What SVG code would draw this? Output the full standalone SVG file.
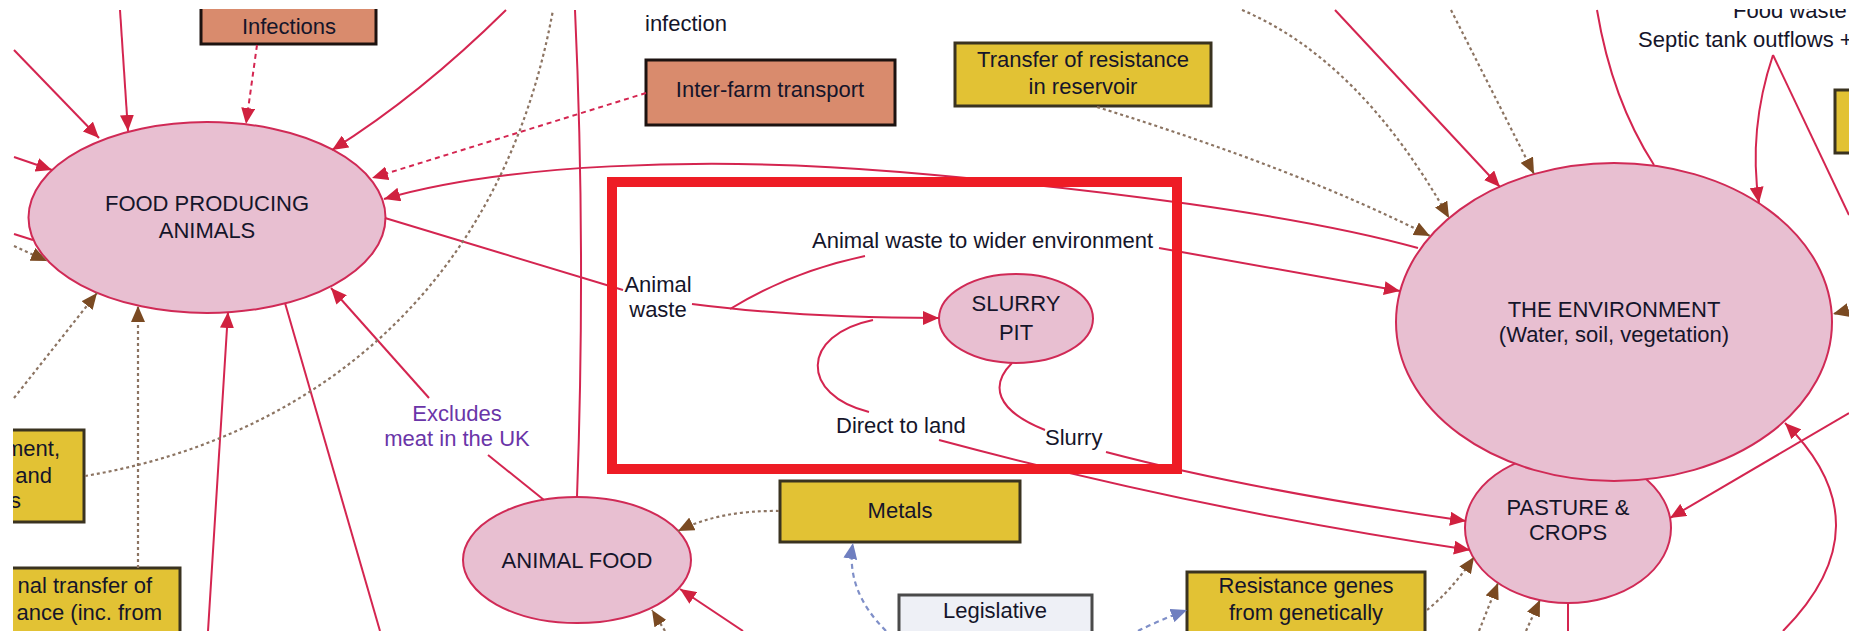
<svg xmlns="http://www.w3.org/2000/svg" width="1849" height="631" viewBox="0 0 1849 631">
<style>
text{font-family:"Liberation Sans",Arial,sans-serif;font-size:22px;fill:#15152a}
.c{text-anchor:middle}
.e{text-anchor:end}
.ell{fill:#E8BFD1;stroke:#D02A56;stroke-width:2}
.yel{fill:#E2C234;stroke:#3A3320;stroke-width:3}
.sal{fill:#D98B6D;stroke:#1C1210;stroke-width:3}
.leg{fill:#EEF0F6;stroke:#4A4A4A;stroke-width:3}
.r{fill:none;stroke:#D42550;stroke-width:2}
.rd{fill:none;stroke:#D42550;stroke-width:2;stroke-dasharray:5 4}
.b{fill:none;stroke:#8C7462;stroke-width:2.2;stroke-dasharray:3 3}
.bl{fill:none;stroke:#7F8FC8;stroke-width:2.2;stroke-dasharray:5 4}
.pur{fill:#6A35A8}
</style>
<defs>
<marker id="ar" markerUnits="userSpaceOnUse" markerWidth="18" markerHeight="14" refX="16" refY="7" orient="auto"><path d="M0,0 L16,7 L0,14 z" fill="#D0213F"/></marker>
<marker id="ab" markerUnits="userSpaceOnUse" markerWidth="18" markerHeight="14" refX="16" refY="7" orient="auto"><path d="M0,0 L16,7 L0,14 z" fill="#7A4A22"/></marker>
<marker id="abl" markerUnits="userSpaceOnUse" markerWidth="18" markerHeight="14" refX="16" refY="7" orient="auto"><path d="M0,0 L16,7 L0,14 z" fill="#6F7FC0"/></marker>
<clipPath id="clip"><rect x="13" y="9" width="1836" height="622"/></clipPath>
</defs>
<rect width="1849" height="631" fill="#fff"/>
<g clip-path="url(#clip)">
<g id="nodes">
<g id="infections"><rect class="sal" x="201" y="-5" width="175" height="49"/><text class="c" x="289" y="34">Infections</text></g>
<g id="food-producing-animals"><ellipse class="ell" cx="207" cy="217.5" rx="178.5" ry="95.5"/><text class="c" x="207" y="211">FOOD PRODUCING</text><text class="c" x="207" y="238">ANIMALS</text></g>
<g id="inter-farm"><rect class="sal" x="646" y="60" width="249" height="65"/><text class="c" x="770" y="97">Inter-farm transport</text></g>
<g id="transfer-reservoir"><rect class="yel" x="955" y="43" width="256" height="63"/><text class="c" x="1083" y="67">Transfer of resistance</text><text class="c" x="1083" y="94">in reservoir</text></g>
<g id="right-box"><rect class="yel" x="1835" y="90" width="30" height="63"/></g>
<g id="pasture-crops"><ellipse class="ell" cx="1568" cy="528" rx="103" ry="75"/><text class="c" x="1568" y="515">PASTURE &amp;</text><text class="c" x="1568" y="540">CROPS</text></g>
<g id="environment"><ellipse class="ell" cx="1614" cy="322" rx="218" ry="159"/><text class="c" x="1614" y="317">THE ENVIRONMENT</text><text class="c" x="1614" y="342">(Water, soil, vegetation)</text></g>
<g id="slurry-pit"><ellipse class="ell" cx="1016" cy="318.5" rx="77" ry="44.5"/><text class="c" x="1016" y="311">SLURRY</text><text class="c" x="1016" y="340">PIT</text></g>
<g id="animal-food"><ellipse class="ell" cx="577" cy="560" rx="114" ry="63"/><text class="c" x="577" y="568">ANIMAL FOOD</text></g>
<g id="metals"><rect class="yel" x="780" y="481" width="240" height="61"/><text class="c" x="900" y="518">Metals</text></g>
<g id="legislative"><rect class="leg" x="899" y="595" width="193" height="50"/><text class="c" x="995" y="618">Legislative</text></g>
<g id="resistance-genes"><rect class="yel" x="1187" y="572" width="238" height="70"/><text class="c" x="1306" y="593">Resistance genes</text><text class="c" x="1306" y="620">from genetically</text></g>
<g id="left-box"><rect class="yel" x="-10" y="430" width="94" height="92"/><text class="e" x="60" y="456">ment,</text><text class="e" x="52" y="483">and</text><text class="e" x="21" y="508">s</text></g>
<g id="left-bottom-box"><rect class="yel" x="-10" y="568" width="190" height="80"/><text class="e" x="152" y="593">nal transfer of</text><text class="e" x="162" y="620">ance (inc. from</text></g>
</g>
<g id="labels">
<text x="645" y="31">infection</text>
<text x="1733" y="18">Food waste</text>
<text x="1638" y="47">Septic tank outflows +</text>
<text class="c" x="658" y="292">Animal</text>
<text class="c" x="658" y="317">waste</text>
<text x="812" y="248">Animal waste to wider environment</text>
<text x="836" y="433">Direct to land</text>
<text x="1045" y="445">Slurry</text>
<text class="c pur" x="457" y="421">Excludes</text>
<text class="c pur" x="457" y="446">meat in the UK</text>
</g>
<g id="connectors">
<path class="r" d="M14 50 L99 138" marker-end="url(#ar)"/>
<path class="r" d="M120 10 L128 131" marker-end="url(#ar)"/>
<path class="rd" d="M257 45 L246 124" marker-end="url(#ar)"/>
<path class="r" d="M506 10 Q420 95 332 150" marker-end="url(#ar)"/>
<path class="rd" d="M646 93 L372 178" marker-end="url(#ar)"/>
<path class="r" d="M1418 248 C1300 215 1100 189 900 172 C700 155 500 165 384 199" marker-end="url(#ar)"/>
<path class="r" d="M385 218 L623 290"/>
<path class="r" d="M692 304 Q800 318 939 318" marker-end="url(#ar)"/>
<path class="r" d="M730 309 Q790 272 865 256"/>
<path class="r" d="M1159 248 L1400 291" marker-end="url(#ar)"/>
<path class="r" d="M873 320 C800 335 800 395 869 412"/>
<path class="r" d="M1012 363 C990 385 995 410 1045 430"/>
<path class="r" d="M1106 452 Q1250 490 1466 521" marker-end="url(#ar)"/>
<path class="r" d="M939 440 Q1200 510 1470 550" marker-end="url(#ar)"/>
<path class="r" d="M429 398 L331 288" marker-end="url(#ar)"/>
<path class="r" d="M544 500 L488 455"/>
<path class="r" d="M577 497 Q586 250 575 10"/>
<path class="r" d="M285 303 L380 631"/>
<path class="r" d="M208 631 L228 312" marker-end="url(#ar)"/>
<path class="r" d="M14 157 L52 170" marker-end="url(#ar)"/>
<path class="r" d="M14 234 L33 240"/>
<path class="b" d="M14 246 L47 261" marker-end="url(#ab)"/>
<path class="b" d="M14 398 L97 293" marker-end="url(#ab)"/>
<path class="b" d="M138 568 L138 306" marker-end="url(#ab)"/>
<path class="b" d="M85 476 C300 440 500 300 553 10"/>
<path class="b" d="M779 511 Q720 510 678 531" marker-end="url(#ab)"/>
<path class="b" d="M665 631 L652 610" marker-end="url(#ab)"/>
<path class="r" d="M743 631 L680 589" marker-end="url(#ar)"/>
<path class="bl" d="M886 631 Q845 590 853 543" marker-end="url(#abl)"/>
<path class="bl" d="M1138 631 Q1160 620 1187 610" marker-end="url(#abl)"/>
<path class="b" d="M1427 610 Q1452 590 1474 557" marker-end="url(#ab)"/>
<path class="b" d="M1479 631 L1498 583" marker-end="url(#ab)"/>
<path class="b" d="M1526 631 L1540 600" marker-end="url(#ab)"/>
<path class="r" d="M1568 603 L1568 631"/>
<path class="r" d="M1849 413 L1670 518" marker-end="url(#ar)"/>
<path class="r" d="M1783 631 Q1888 525 1785 423" marker-end="url(#ar)"/>
<path class="b" d="M1849 310 L1833 314" marker-end="url(#ab)"/>
<path class="r" d="M1773 55 Q1748 130 1759 203" marker-end="url(#ar)"/>
<path class="r" d="M1773 55 L1849 215"/>
<path class="r" d="M1597 10 Q1612 100 1654 165"/>
<path class="r" d="M1335 10 L1500 187" marker-end="url(#ar)"/>
<path class="b" d="M1451 10 L1534 174" marker-end="url(#ab)"/>
<path class="b" d="M1242 10 Q1360 60 1449 218" marker-end="url(#ab)"/>
<path class="b" d="M1097 107 Q1300 170 1430 236" marker-end="url(#ab)"/>
</g>
<g id="highlight"><rect x="612" y="182" width="565" height="287" fill="none" stroke="#EE1C25" stroke-width="10"/></g>
</g>
</svg>
